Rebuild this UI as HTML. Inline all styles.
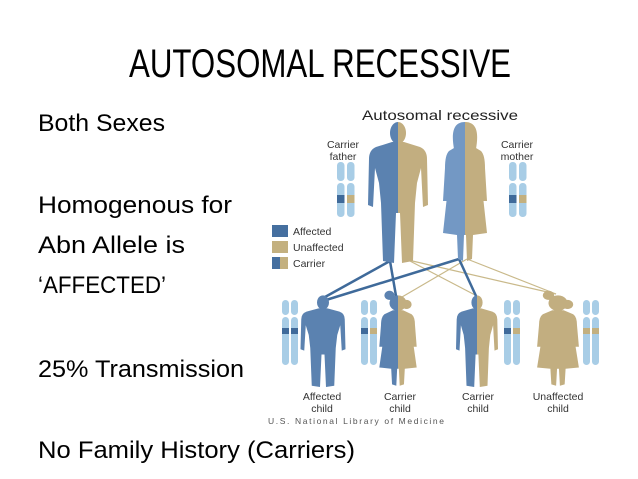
<!DOCTYPE html>
<html><head><meta charset="utf-8"><style>
html,body{margin:0;padding:0;background:#fff;}
svg{display:block;}
</style></head><body>
<svg width="638" height="479" viewBox="0 0 638 479" xmlns="http://www.w3.org/2000/svg">
<defs>
<path id="man" d="M -6 19 L -22 24 Q -29 27 -29 36 L -30 82 L -25 84 L -23 45 L -19 60 L -17 80 L -15 138 L -4 140 L -2 90 L 2 90 L 4 140 L 15 138 L 17 80 L 19 60 L 23 45 L 25 84 L 30 82 L 29 36 Q 29 27 22 24 L 6 19 Z M 0 -1 A 8 11 0 1 0 0.01 -1 Z"/>
<path id="woman" d="M -6 22 L -16 28 Q -20 32 -20 45 L -22 78 L -18 78 L -16 55 L -22 110 L -8 112 L -7 136 L -2 138 L -1 112 L 1 112 L 2 138 L 7 136 L 8 112 L 22 110 L 16 55 L 18 78 L 22 78 L 20 45 Q 20 32 16 28 L 6 22 Z M 0 -1 C -14 -1 -13 14 -11 26 L 11 26 C 13 14 14 -1 0 -1 Z"/>
<path id="girl" d="M -6 22 L -16 28 Q -20 32 -20 45 L -22 78 L -18 78 L -16 55 L -22 110 L -8 112 L -7 136 L -2 138 L -1 112 L 1 112 L 2 138 L 7 136 L 8 112 L 22 110 L 16 55 L 18 78 L 22 78 L 20 45 Q 20 32 16 28 L 6 22 Z M 0 -1 A 10 12 0 1 0 0.01 -1 Z M -10 6 A 6 7 0 1 0 -10.01 6 Z M 10 6 A 6 7 0 1 0 10.01 6 Z"/>
<clipPath id="L"><rect x="-60" y="-20" width="60" height="200"/></clipPath>
<clipPath id="R"><rect x="0" y="-20" width="60" height="200"/></clipPath>
</defs>

<text x="320" y="77" font-family="Liberation Sans, sans-serif" font-size="40" text-anchor="middle" textLength="382" lengthAdjust="spacingAndGlyphs" fill="#000">AUTOSOMAL RECESSIVE</text>

<g font-family="Liberation Sans, sans-serif" font-size="24" fill="#000">
<text x="38" y="131" textLength="127" lengthAdjust="spacingAndGlyphs">Both Sexes</text>
<text x="38" y="213" textLength="194" lengthAdjust="spacingAndGlyphs">Homogenous for</text>
<text x="38" y="253" textLength="147" lengthAdjust="spacingAndGlyphs">Abn Allele is</text>
<text x="38" y="293" textLength="128" lengthAdjust="spacingAndGlyphs">‘AFFECTED’</text>
<text x="38" y="377" textLength="206" lengthAdjust="spacingAndGlyphs">25% Transmission</text>
<text x="38" y="458" textLength="317" lengthAdjust="spacingAndGlyphs">No Family History (Carriers)</text>
</g>

<text x="440" y="120" font-family="Liberation Sans, sans-serif" font-size="14" text-anchor="middle" textLength="156" lengthAdjust="spacingAndGlyphs" fill="#222">Autosomal recessive</text>
<g font-family="Liberation Sans, sans-serif" font-size="10.5" fill="#333" text-anchor="middle">
<text x="343" y="148">Carrier</text><text x="343" y="160">father</text>
<text x="517" y="148">Carrier</text><text x="517" y="160">mother</text>
<text x="322" y="400">Affected</text><text x="322" y="412">child</text>
<text x="400" y="400">Carrier</text><text x="400" y="412">child</text>
<text x="478" y="400">Carrier</text><text x="478" y="412">child</text>
<text x="558" y="400">Unaffected</text><text x="558" y="412">child</text>
</g>
<text x="268" y="424" font-family="Liberation Sans, sans-serif" font-size="8.5" fill="#555" textLength="176" lengthAdjust="spacing">U.S. National Library of Medicine</text>

<rect x="272" y="225" width="16" height="12" fill="#456f9f"/>
<rect x="272" y="241" width="16" height="12" fill="#c3b07f"/>
<rect x="272" y="257" width="8" height="12" fill="#456f9f"/><rect x="280" y="257" width="8" height="12" fill="#c3b07f"/>
<g font-family="Liberation Sans, sans-serif" font-size="10.5" fill="#333">
<text x="293" y="235">Affected</text><text x="293" y="251">Unaffected</text><text x="293" y="267">Carrier</text>
</g>

<g stroke="#c9b98a" stroke-width="1.2" fill="none">
<line x1="408" y1="260" x2="477" y2="296"/>
<line x1="408" y1="260" x2="556" y2="294"/>
<line x1="467" y1="259" x2="402" y2="297"/>
<line x1="467" y1="259" x2="556" y2="294"/>
</g>
<g stroke="#3f6a9a" stroke-width="2.5" fill="none">
<line x1="390" y1="261" x2="325" y2="297"/>
<line x1="390" y1="261" x2="396" y2="296"/>
<line x1="459" y1="259" x2="326" y2="300"/>
<line x1="459" y1="259" x2="476" y2="296"/>
</g>

<g transform="translate(398,123)">
<use href="#man" fill="#5b82b0" clip-path="url(#L)"/>
<use href="#man" fill="#c2ae80" clip-path="url(#R)"/>
</g>
<g transform="translate(465,123)">
<use href="#woman" fill="#7398c4" clip-path="url(#L)"/>
<use href="#woman" fill="#c2ae80" clip-path="url(#R)"/>
</g>

<g transform="translate(323,296) scale(0.75,0.65)"><use href="#man" fill="#5b82b0"/></g>
<g transform="translate(398,296) scale(0.85,0.65)">
<use href="#girl" fill="#5b82b0" clip-path="url(#L)"/>
<use href="#girl" fill="#c2ae80" clip-path="url(#R)"/>
</g>
<g transform="translate(477,296) scale(0.7,0.65)">
<use href="#man" fill="#5b82b0" clip-path="url(#L)"/>
<use href="#man" fill="#c2ae80" clip-path="url(#R)"/>
</g>
<g transform="translate(558,296) scale(0.95,0.65)"><use href="#girl" fill="#c2ae80"/></g>

<g fill="#a8cde6">
<rect x="337" y="162" width="7.5" height="19" rx="3.5"/><rect x="337" y="183" width="7.5" height="34" rx="3.5"/>
<rect x="347" y="162" width="7.5" height="19" rx="3.5"/><rect x="347" y="183" width="7.5" height="34" rx="3.5"/>
<rect x="509" y="162" width="7.5" height="19" rx="3.5"/><rect x="509" y="183" width="7.5" height="34" rx="3.5"/>
<rect x="519" y="162" width="7.5" height="19" rx="3.5"/><rect x="519" y="183" width="7.5" height="34" rx="3.5"/>
<rect x="282" y="300" width="7" height="15" rx="3.5"/><rect x="282" y="317" width="7" height="48" rx="3.5"/>
<rect x="291" y="300" width="7" height="15" rx="3.5"/><rect x="291" y="317" width="7" height="48" rx="3.5"/>
<rect x="361" y="300" width="7" height="15" rx="3.5"/><rect x="361" y="317" width="7" height="48" rx="3.5"/>
<rect x="370" y="300" width="7" height="15" rx="3.5"/><rect x="370" y="317" width="7" height="48" rx="3.5"/>
<rect x="504" y="300" width="7" height="15" rx="3.5"/><rect x="504" y="317" width="7" height="48" rx="3.5"/>
<rect x="513" y="300" width="7" height="15" rx="3.5"/><rect x="513" y="317" width="7" height="48" rx="3.5"/>
<rect x="583" y="300" width="7" height="15" rx="3.5"/><rect x="583" y="317" width="7" height="48" rx="3.5"/>
<rect x="592" y="300" width="7" height="15" rx="3.5"/><rect x="592" y="317" width="7" height="48" rx="3.5"/>
</g>
<rect x="337" y="195" width="7.5" height="8" fill="#3f6a9a"/><rect x="347" y="195" width="7.5" height="8" fill="#c3b07f"/>
<rect x="509" y="195" width="7.5" height="8" fill="#3f6a9a"/><rect x="519" y="195" width="7.5" height="8" fill="#c3b07f"/>
<rect x="282" y="328" width="7" height="6" fill="#3f6a9a"/><rect x="291" y="328" width="7" height="6" fill="#3f6a9a"/>
<rect x="361" y="328" width="7" height="6" fill="#3f6a9a"/><rect x="370" y="328" width="7" height="6" fill="#c3b07f"/>
<rect x="504" y="328" width="7" height="6" fill="#3f6a9a"/><rect x="513" y="328" width="7" height="6" fill="#c3b07f"/>
<rect x="583" y="328" width="7" height="6" fill="#c3b07f"/><rect x="592" y="328" width="7" height="6" fill="#c3b07f"/>
</svg>
</body></html>
